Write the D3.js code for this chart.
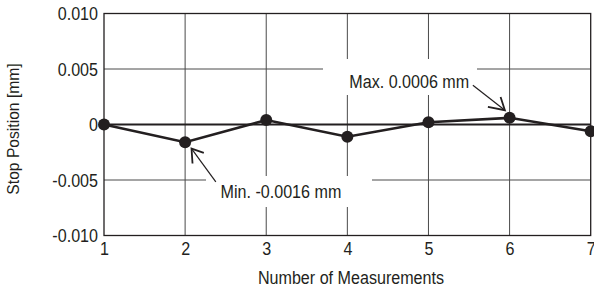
<!DOCTYPE html>
<html>
<head>
<meta charset="utf-8">
<script src="https://cdn.jsdelivr.net/npm/d3@7"></script>
<style>
    body { margin: 0; background: #fff; }
    svg text { font-family: "Liberation Sans", Arial, Helvetica, sans-serif; fill: #231f20; }
</style>
</head>
<body>
<div id="chart"></div>
<script>
// Stop position repeatability data
const measurements = [1, 2, 3, 4, 5, 6, 7];
const stopPosition = [0, -0.0016, 0.0004, -0.0011, 0.0002, 0.0006, -0.0006];
const yTicks = [-0.010, -0.005, 0, 0.005, 0.010];
const yTickLabels = ['-0.010', '-0.005', '0', '0.005', '0.010'];
const annotations = [
    { index: 5, label: 'Max. 0.0006 mm' },
    { index: 1, label: 'Min. -0.0016 mm' }
];

const width = 594, height = 289;
const margin = { top: 13.5, right: 3.3, bottom: 53.5, left: 104 };
const fontSize = 17.5;
const condense = 0.92; // source font is a condensed sans

const svg = d3.select('#chart')
    .append('svg')
    .attr('width', width)
    .attr('height', height);

const x = d3.scaleLinear()
    .domain([1, 7])
    .range([margin.left, width - margin.right]);

const y = d3.scaleLinear()
    .domain([-0.010, 0.010])
    .range([height - margin.bottom, margin.top]);

// Grid
const grid = svg.append('g').attr('class', 'grid');
grid.selectAll('.vgrid')
    .data(measurements.slice(1, -1))
    .enter()
    .append('line')
    .attr('x1', d => x(d)).attr('x2', d => x(d))
    .attr('y1', y(0.010)).attr('y2', y(-0.010))
    .attr('stroke', '#4a4a4a')
    .attr('stroke-width', 1);

grid.selectAll('.hgrid')
    .data(yTicks.filter(d => d !== 0.010 && d !== -0.010))
    .enter()
    .append('line')
    .attr('x1', x(1)).attr('x2', x(7))
    .attr('y1', d => y(d)).attr('y2', d => y(d))
    .attr('stroke', d => d === 0 ? '#231f20' : '#4a4a4a')
    .attr('stroke-width', d => d === 0 ? 1.8 : 1);

// White label backgrounds that break the grid
const boxes = [
    { x0: 323, x1: 477, y0: 59, y1: 95 },
    { x0: 206, x1: 372, y0: 176, y1: 207 }
];
svg.append('g').selectAll('rect')
    .data(boxes)
    .enter()
    .append('rect')
    .attr('x', d => d.x0).attr('y', d => d.y0)
    .attr('width', d => d.x1 - d.x0).attr('height', d => d.y1 - d.y0)
    .attr('fill', '#fff');

// Frame
svg.append('rect')
    .attr('x', x(1)).attr('y', y(0.010))
    .attr('width', x(7) - x(1)).attr('height', y(-0.010) - y(0.010))
    .attr('fill', 'none')
    .attr('stroke', '#231f20')
    .attr('stroke-width', 1.3);

// Axes labels
const yAxis = d3.axisLeft(y)
    .tickValues(yTicks)
    .tickFormat((d, i) => yTickLabels[i])
    .tickSize(0)
    .tickPadding(6);

const yG = svg.append('g')
    .attr('transform', `translate(${x(1)},0)`)
    .call(yAxis);
yG.select('.domain').remove();
yG.selectAll('text')
    .attr('font-size', fontSize)
    .attr('dy', '0.35em')
    .style('font-family', null);

const xAxis = d3.axisBottom(x)
    .tickValues(measurements)
    .tickFormat(d3.format('d'))
    .tickSize(0)
    .tickPadding(7);

const xG = svg.append('g')
    .attr('transform', `translate(0,${y(-0.010)})`)
    .call(xAxis);
xG.select('.domain').remove();
xG.selectAll('text')
    .attr('font-size', fontSize)
    .style('font-family', null);

svg.append('text')
    .attr('x', 351)
    .attr('y', 284)
    .attr('text-anchor', 'middle')
    .attr('font-size', fontSize)
    .text('Number of Measurements');

svg.append('text')
    .attr('transform', 'translate(19,129) rotate(-90)')
    .attr('text-anchor', 'middle')
    .attr('font-size', 17)
    .text('Stop Position [mm]');

// Data line and markers
const line = d3.line()
    .x((d, i) => x(measurements[i]))
    .y(d => y(d));

svg.append('path')
    .datum(stopPosition)
    .attr('d', line)
    .attr('fill', 'none')
    .attr('stroke', '#231f20')
    .attr('stroke-width', 2.6);

svg.append('g').selectAll('circle')
    .data(stopPosition)
    .enter()
    .append('circle')
    .attr('cx', (d, i) => x(measurements[i]))
    .attr('cy', d => y(d))
    .attr('r', 6)
    .attr('fill', '#231f20');

// Annotations: label position and arrow offsets relative to the point
const annLayout = [
    { tx: -40.4, ty: -30, anchor: 'end', from: [-36.7, -32.6], tip: [-4.7, -7.6], w1: [-21.7, -10.9], w2: [-9, -20.9] },
    { tx: 35.4, ty: 55.7, anchor: 'start', from: [30.7, 39.7], tip: [6.4, 6.3], w1: [18.7, 10.7], w2: [7.4, 21.3] }
];

const ann = svg.append('g').attr('class', 'annotations');
annotations.forEach((a, k) => {
    const px = x(measurements[a.index]);
    const py = y(stopPosition[a.index]);
    const l = annLayout[k];
    ann.append('text')
        .attr('x', px + l.tx)
        .attr('y', py + l.ty)
        .attr('text-anchor', l.anchor)
        .attr('font-size', fontSize)
        .text(a.label);
    const tip = [px + l.tip[0], py + l.tip[1]];
    ann.append('line')
        .attr('x1', px + l.from[0]).attr('y1', py + l.from[1])
        .attr('x2', tip[0]).attr('y2', tip[1])
        .attr('stroke', '#231f20')
        .attr('stroke-width', 1.2);
    ann.append('path')
        .attr('d', `M${px + l.w1[0]},${py + l.w1[1]}L${tip[0]},${tip[1]}L${px + l.w2[0]},${py + l.w2[1]}`)
        .attr('fill', 'none')
        .attr('stroke', '#231f20')
        .attr('stroke-width', 1.8);
});

// squeeze all text horizontally to mimic the condensed face
svg.selectAll('text').each(function () {
    const len = this.getComputedTextLength();
    d3.select(this)
        .attr('textLength', len * condense)
        .attr('lengthAdjust', 'spacingAndGlyphs');
});
</script>
</body>
</html>
